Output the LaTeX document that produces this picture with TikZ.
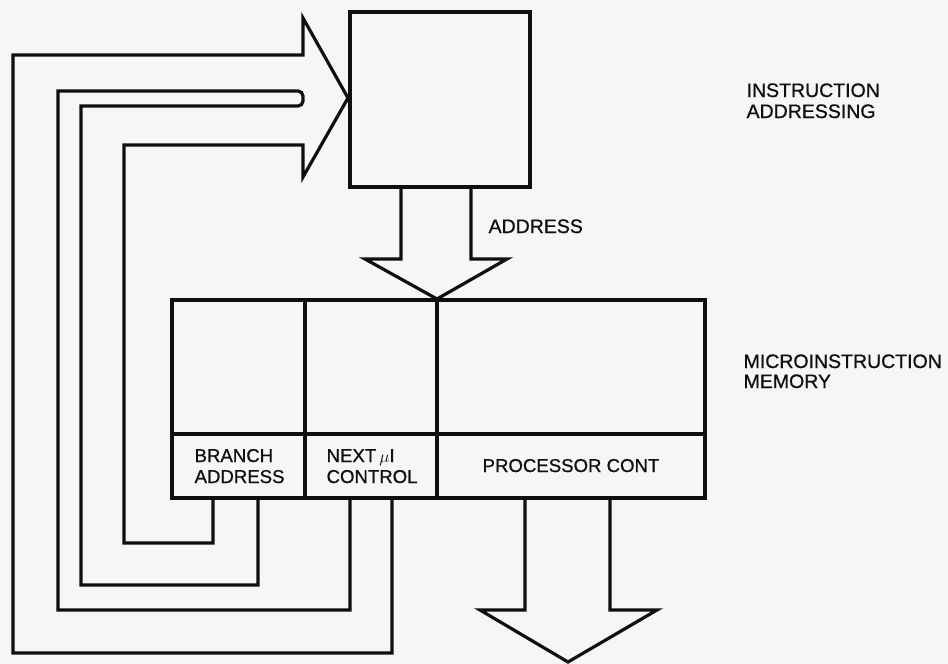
\documentclass[tikz,border=0pt]{standalone}
\usepackage{fontspec}
\setmainfont{Liberation Sans}[FakeBold=0.8]
\definecolor{paper}{RGB}{246,246,244}
\definecolor{ink}{RGB}{15,15,15}
\begin{document}
\begin{tikzpicture}[x=1pt,y=-1pt,
  line width=3.2pt, line join=miter, draw=ink,
  cellbox/.style={draw=ink, line width=3.2pt, inner sep=0pt, outer sep=0pt, anchor=north west},
  biglab/.style={inner sep=0pt, anchor=base west, text=ink, font=\fontsize{19.5}{23}\selectfont},
  celllab/.style={inner sep=0pt, anchor=base west, text=ink, font=\fontsize{18.6}{22}\selectfont}]
\fill[paper] (0,0) rectangle (948,664);
\useasboundingbox (0,0) rectangle (948,664);

% instruction addressing box
\node[cellbox, minimum width=180pt, minimum height=175pt] (ia) at (350,12) {};

% microinstruction memory cells
\node[cellbox, minimum width=133pt, minimum height=134pt] (bu) at (172,300) {};
\node[cellbox, minimum width=132pt, minimum height=134pt] (nu) at (305,300) {};
\node[cellbox, minimum width=268pt, minimum height=134pt] (pu) at (437,300) {};
\node[cellbox, minimum width=133pt, minimum height=64pt] (bl) at (172,434) {};
\node[cellbox, minimum width=132pt, minimum height=64pt] (nl) at (305,434) {};
\node[cellbox, minimum width=268pt, minimum height=64pt] (pl) at (437,434) {};

% cell labels
\node[celllab] (b1) at (193,462) {BRANCH};
\node[celllab] (b2) at (193,483) {ADDRESS};
\node[celllab] (n1) at (325,462) {NEXT\,$\mu$I};
\node[celllab] (n2) at (325,483) {CONTROL};
\node[celllab, anchor=base] (p1) at (571,472) {PROCESSOR CONT};

% outer labels
\node[biglab] (ia1) at (745,97) {INSTRUCTION};
\node[biglab] (ia2) at (745,118) {ADDRESSING};
\node[biglab] (mm1) at (742,368) {MICROINSTRUCTION};
\node[biglab] (mm2) at (742,388) {MEMORY};
\node[biglab] (ad) at (487,233) {ADDRESS};

% address arrow (ia -> memory)
\draw (401,186) -- (401,259) -- (365,259) -- (437,299) -- (507,259) -- (471,259) -- (471,186);

% output arrow from processor control
\draw (525,498) -- (525,610) -- (480,610) -- (568,662) -- (657,610) -- (610,610) -- (610,498);

% big feedback arrow (outer outline)
\draw (392,498) -- (392,653) -- (13,653) -- (13,55) -- (303,55) -- (303,18)
      -- (348,98) -- (303,177) -- (303,145) -- (124,145) -- (124,543) -- (213,543) -- (213,498);

% inner separating strip
\draw (258,498) -- (258,585) -- (81,585) -- (81,106) -- (298,106) arc (90:0:5)
      -- (303,96) arc (0:-90:5) -- (58,91) -- (58,610) -- (350,610) -- (350,498);
\end{tikzpicture}
\end{document}
